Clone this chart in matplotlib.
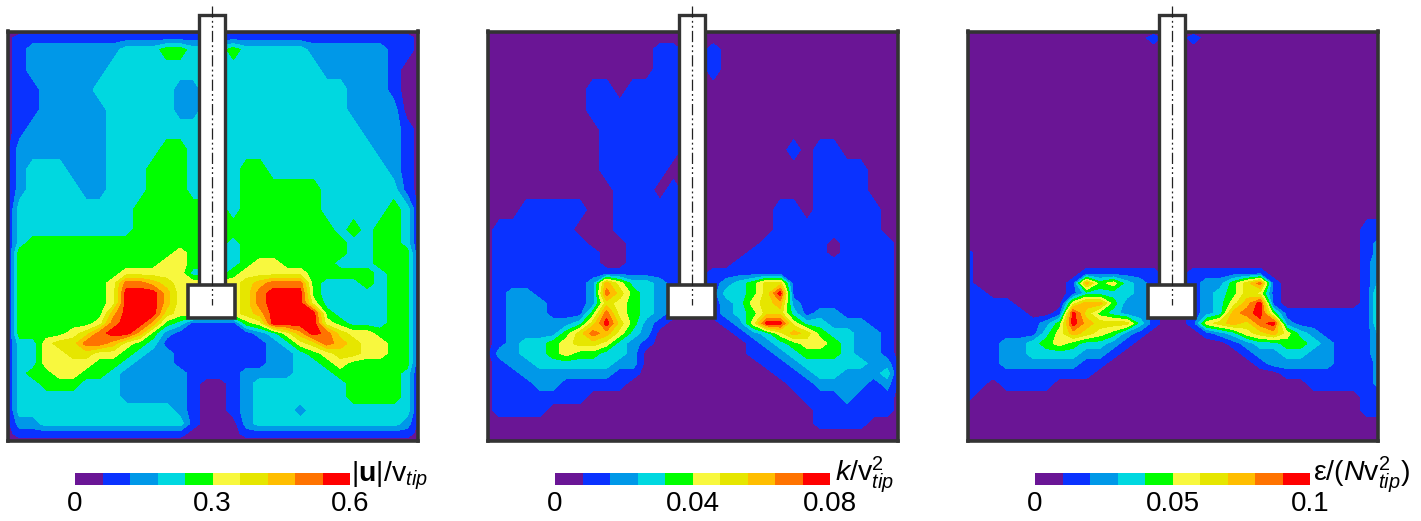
import numpy as np
import matplotlib
matplotlib.use("Agg")
import matplotlib.pyplot as plt
from matplotlib.colors import ListedColormap
from matplotlib.patches import Rectangle

plt.rcParams['font.family'] = ['Liberation Sans', 'DejaVu Sans']
plt.rcParams['mathtext.fontset'] = 'custom'
plt.rcParams['mathtext.rm'] = 'Liberation Sans'
plt.rcParams['mathtext.it'] = 'Liberation Sans:italic'
plt.rcParams['mathtext.bf'] = 'Liberation Sans:bold'

# sampling positions in the tank (same units as a 3x crop of one panel)
x_pos = [20 + 40 * i for i in range(32)]
y_pos = [95, 115, 150, 210, 270, 330, 390, 450, 510, 570, 630, 690, 730, 760, 790, 820,
         850, 880, 910, 940, 970, 1000, 1030, 1060, 1090, 1120, 1150, 1190, 1230, 1270, 1300, 1325]

# colour band read at each position, 0 (purple) to 9 (red)
u_bands = [
    "0000 0000 0000 0000 0000 0000 0000 0000",
    "0111 1111 1111 1111 1111 1111 1111 1110",
    "0122 2222 2333 4433 3433 3332 2222 2110",
    "0122 2222 3333 3333 3333 3333 2222 2100",
    "0112 2223 3333 3223 3333 3333 3322 2100",
    "0112 2222 3333 3223 3333 3333 3322 2200",
    "0122 2222 3333 3333 3333 3333 3332 2210",
    "0222 2222 3333 4433 3333 3333 3333 2210",
    "0233 3222 3334 4433 3344 3333 3333 3210",
    "0233 3322 3334 4433 3344 4444 3333 3310",
    "0333 3333 3344 4444 4344 4444 3333 3430",
    "0333 3333 3344 4444 4444 4444 4343 4430",
    "0344 4444 4444 4444 4344 4444 4433 4430",
    "0444 4444 4444 4544 4344 4444 4433 4440",
    "0444 4444 4444 5544 4345 5444 4333 4440",
    "0444 4444 4555 5533 3455 5554 4444 3440",
    "0444 4444 5887 6555 5567 8884 3334 3440",
    "0444 4444 5999 7555 5568 9994 3333 3440",
    "0444 4444 5999 7555 5568 9995 3333 3440",
    "0444 4444 7999 6555 5567 9999 4333 3440",
    "0444 4445 8997 4311 1145 9999 5433 3440",
    "0444 4568 9974 2111 1112 3579 8655 4440",
    "0335 6688 7543 1111 1111 2356 8765 5440",
    "0335 5665 5432 2111 1111 2234 5665 5440",
    "0335 5554 4322 2111 1111 2233 4544 4440",
    "0344 5544 3222 2211 1122 2233 3444 4430",
    "0334 4433 3222 2210 0123 3333 3344 4430",
    "0333 3333 3222 2210 0123 3333 3344 4430",
    "0333 3333 3333 3210 0123 3323 3333 3330",
    "0223 3333 3333 3310 0023 3333 3333 3320",
    "0111 1111 1111 1100 0011 1111 1111 1110",
    "0000 0000 0000 0000 0000 0000 0000 0000",
]

k_bands = [
    "0000 0000 0000 0000 0000 0000 0000 0000",
    "0000 0000 0000 0000 0000 0000 0000 0000",
    "0000 0000 0000 0110 0100 0000 0000 0000",
    "0000 0000 0000 0110 0100 0000 0000 0000",
    "0000 0000 1101 1110 0000 0000 0000 0000",
    "0000 0000 1111 1110 0000 0000 0000 0000",
    "0000 0000 0111 1110 0000 0000 0000 0000",
    "0000 0000 0111 1110 0000 0001 0110 0000",
    "0000 0000 0111 1100 0000 0000 0111 1000",
    "0000 0000 0011 1010 0000 0000 0111 1000",
    "0001 1111 0011 1110 0000 0011 0111 1100",
    "0111 1110 0011 1110 0000 0011 1111 1100",
    "0111 1111 0001 1110 0000 0111 1101 1110",
    "0111 1111 1001 1110 0000 1111 1101 1110",
    "0111 1111 1001 1110 0001 1111 1111 1110",
    "0111 1111 1111 1110 0111 1111 1111 1110",
    "0111 1111 2753 3210 0123 4661 1111 1110",
    "0122 1111 2864 3210 0133 4691 1111 1110",
    "0122 2111 2654 3210 0123 5672 1111 1110",
    "0122 2111 4854 3210 0123 4663 1221 1110",
    "0122 2223 6964 2100 0012 5995 3322 2110",
    "0122 2246 8753 2000 0001 2357 6433 2210",
    "0123 3456 6532 1000 0000 1234 5543 2210",
    "0223 3454 4332 0000 0000 1123 4443 2210",
    "0122 3333 3322 0000 0000 0112 3333 3220",
    "0112 2222 2211 0000 0000 0011 2332 2230",
    "0111 2211 1110 0000 0000 0001 1222 2120",
    "0111 1111 0000 0000 0000 0000 1112 1110",
    "0111 1000 0000 0000 0000 0000 0111 1110",
    "0000 0000 0000 0000 0000 0000 0111 1000",
    "0000 0000 0000 0000 0000 0000 0000 0000",
    "0000 0000 0000 0000 0000 0000 0000 0000",
]

eps_bands = [
    "0000 0000 0000 0000 0000 0000 0000 0000",
    "0000 0000 0000 0010 0100 0000 0000 0000",
    "0000 0000 0000 0000 0000 0000 0000 0000",
    "0000 0000 0000 0000 0000 0000 0000 0000",
    "0000 0000 0000 0000 0000 0000 0000 0000",
    "0000 0000 0000 0000 0000 0000 0000 0000",
    "0000 0000 0000 0000 0000 0000 0000 0000",
    "0000 0000 0000 0000 0000 0000 0000 0000",
    "0000 0000 0000 0000 0000 0000 0000 0000",
    "0000 0000 0000 0000 0000 0000 0000 0000",
    "0000 0000 0000 0000 0000 0000 0000 0000",
    "0000 0000 0000 0000 0000 0000 0000 0011",
    "0000 0000 0000 0000 0000 0000 0000 0012",
    "1000 0000 0000 0000 0000 0000 0000 0012",
    "1000 0000 0000 0000 0000 0000 0000 0013",
    "1000 0000 0111 1110 0111 1110 0000 0013",
    "1000 0000 1745 3210 0122 4681 0000 0013",
    "1100 0000 1333 3210 0123 4651 0000 0014",
    "1111 0000 5774 2210 0123 5791 0000 0014",
    "1111 1001 9643 2210 0123 7894 1111 1114",
    "1111 1124 9766 6310 0156 7689 2111 1114",
    "1111 1135 7654 2100 0012 3567 5321 1113",
    "1112 2345 4332 1000 0000 1233 4432 1113",
    "1112 2333 3221 0000 0000 0122 3322 1113",
    "1112 2222 2110 0000 0000 0012 2222 1112",
    "1111 1111 1100 0000 0000 0000 1111 1112",
    "1101 1110 0000 0000 0000 0000 0011 1112",
    "1000 0000 0000 0000 0000 0000 0000 0011",
    "0000 0000 0000 0000 0000 0000 0000 0011",
    "0000 0000 0000 0000 0000 0000 0000 0000",
    "0000 0000 0000 0000 0000 0000 0000 0000",
    "0000 0000 0000 0000 0000 0000 0000 0000",
]

band_colors = ['#6a1595', '#0a32ff', '#0098e8', '#00d8e0', '#00ff00',
               '#f8f83e', '#e6e600', '#ffbe00', '#ff7300', '#ff0000']

panel_vmax = [0.6, 0.08, 0.1]
panel_ticks = [[0, 0.3, 0.6], [0, 0.04, 0.08], [0, 0.05, 0.1]]
panel_ticklabels = [['0', '0.3', '0.6'], ['0', '0.04', '0.08'], ['0', '0.05', '0.1']]
panel_labels = [r'$|\mathbf{u}|/\mathrm{v}_{tip}$',
                r'$k/\mathrm{v}_{tip}^{2}$',
                r'ε$/(N\mathrm{v}_{tip}^{2})$']
label_x = [351, 835, 1313]
panel_left = [7.5, 487.5, 967.5]
W = 1421.0
H = 521.0
DARK = '#333333'


def to_grid(rows):
    return np.array([[int(c) for c in r.replace(' ', '')] for r in rows], dtype=float)


def px_axes(fig, left, top, width, height):
    return fig.add_axes([left / W, 1 - (top + height) / H, width / W, height / H])


def main():
    fig = plt.figure(figsize=(W / 100, H / 100), dpi=100)
    cmap = ListedColormap(band_colors)
    grids = [to_grid(u_bands), to_grid(k_bands), to_grid(eps_bands)]

    for i, bands in enumerate(grids):
        vmax = panel_vmax[i]
        levels = np.linspace(0, vmax, 11)
        ax = px_axes(fig, panel_left[i], 31.5, 410, 409)
        cs = ax.contourf(x_pos, y_pos, (bands + 0.5) * vmax / 10, levels=levels, cmap=cmap)
        ax.set_xlim(24, 1251)
        ax.set_ylim(1321, 96)
        ax.set_xticks([])
        ax.set_yticks([])
        for s in ax.spines.values():
            s.set_linewidth(2.6)
            s.set_color(DARK)

        # shaft, hub and axis line sit on top of the field
        ax.add_patch(Rectangle((597, 47), 78, 810, fc='white', ec=DARK, lw=2.4,
                               clip_on=False, zorder=5))
        ax.add_patch(Rectangle((565, 854), 140, 101, fc='white', ec=DARK, lw=2.6,
                               clip_on=False, zorder=6))
        ax.plot([635, 635], [20, 915], color='#222222', lw=0.9, clip_on=False, zorder=7,
                dashes=(9, 2.5, 1.5, 2.5, 1.5, 2.5))

        cax = px_axes(fig, panel_left[i] + 67.5, 473, 275, 12)
        cb = fig.colorbar(cs, cax=cax, orientation='horizontal', ticks=panel_ticks[i])
        cb.outline.set_visible(False)
        cb.ax.set_xticklabels(panel_ticklabels[i], fontsize=20)
        cb.ax.tick_params(length=0, pad=4)

        fig.text(label_x[i] / W, 1 - 481 / H, panel_labels[i], fontsize=20.5,
                 ha='left', va='baseline')

    plt.savefig("out.png", dpi=100)


if __name__ == '__main__':
    main()
